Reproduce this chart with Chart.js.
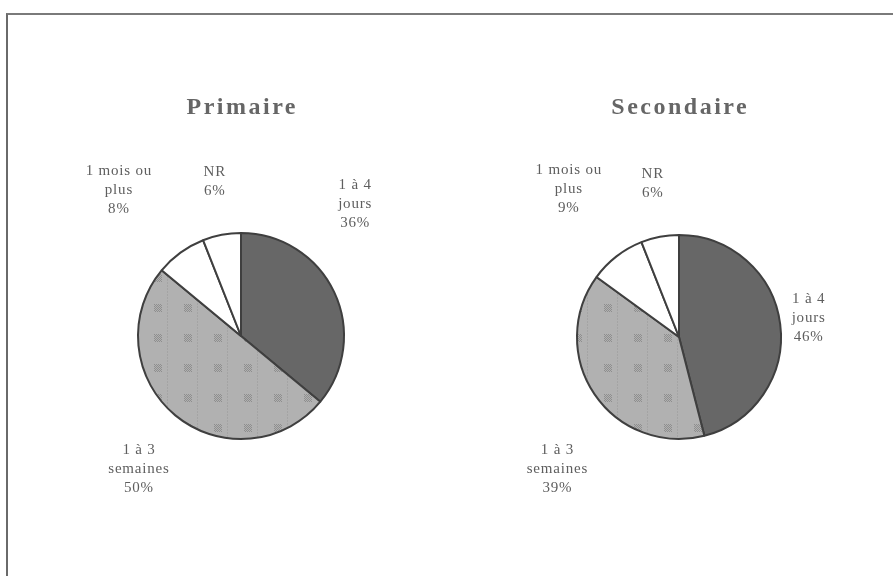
<!DOCTYPE html>
<html>
<head>
<meta charset="utf-8">
<script src="https://cdn.jsdelivr.net/npm/chart.js@4.4.0/dist/chart.umd.min.js"></script>
<style>
    html, body { margin: 0; padding: 0; background: #fff; }
    #page { position: relative; width: 893px; height: 576px; overflow: hidden; }
    #cadre {
        position: absolute; left: 6px; top: 13px; width: 900px; height: 600px;
        border-top: 2px solid #7a7a7a; border-left: 2px solid #6a6a6a;
    }
    canvas { position: absolute; left: 0; top: 0; }
</style>
</head>
<body>
<div id="page">
    <div id="cadre"></div>
    <canvas id="pie-primaire" width="893" height="576"></canvas>
    <canvas id="pie-secondaire" width="893" height="576"></canvas>
</div>
<script>
// categories (lignes de libellé)
const categories = [
    ['1 à 4', 'jours'],
    ['1 à 3', 'semaines'],
    ['1 mois ou', 'plus'],
    ['NR']
];
const titres = ['Primaire', 'Secondaire'];
const valeursPrimaire = [36, 50, 8, 6];
const valeursSecondaire = [46, 39, 9, 6];

// placement des étiquettes : [décalage d'angle en degrés, distance / rayon]
const placementPrimaire = [[-24, 1.69], [-2, 1.63], [-4, 1.85], [1, 1.52]];
const placementSecondaire = [[-1, 1.28], [-13, 1.76], [1, 1.81], [1, 1.53]];

function motifClair() {
    const c = document.createElement('canvas');
    c.width = 30; c.height = 30;
    const g = c.getContext('2d');
    g.fillStyle = '#b1b1b1';
    g.fillRect(0, 0, 30, 30);
    g.fillStyle = '#8e8e8e';
    for (let y = 0; y < 8; y++) {
        for (let x = 0; x < 8; x++) {
            if ((x + y) % 2 === 0) g.fillRect(4 + x, 4 + y, 1, 1);
        }
    }
    g.fillStyle = '#a4a4a4';
    for (let y = 0; y < 30; y += 3) g.fillRect(17, y, 1, 2);
    return g.createPattern(c, 'repeat');
}

const etiquettesPlugin = {
    id: 'etiquettes',
    afterDatasetsDraw(chart, args, opts) {
        const ctx = chart.ctx;
        const arcs = chart.getDatasetMeta(0).data;
        const valeurs = chart.data.datasets[0].data;
        ctx.save();
        ctx.fillStyle = '#5e5e5e';
        ctx.font = '15px "Liberation Serif", "DejaVu Serif", serif';
        ctx.letterSpacing = '0.8px';
        ctx.textAlign = 'center';
        ctx.textBaseline = 'middle';
        arcs.forEach((arc, i) => {
            const p = opts.placement[i];
            const mid = (arc.startAngle + arc.endAngle) / 2 + p[0] * Math.PI / 180;
            const d = arc.outerRadius * p[1];
            const cx = arc.x + Math.cos(mid) * d;
            const cy = arc.y + Math.sin(mid) * d;
            const lignes = categories[i].concat([valeurs[i] + '%']);
            const h = 19;
            const y0 = cy - (lignes.length - 1) * h / 2;
            lignes.forEach((l, k) => ctx.fillText(l, cx + 0.4, y0 + k * h));
        });
        // titre
        const ca = chart.chartArea;
        ctx.fillStyle = '#666';
        ctx.font = 'bold 24px "Liberation Serif", "DejaVu Serif", serif';
        ctx.letterSpacing = '2.5px';
        ctx.fillText(opts.titre, (ca.left + ca.right) / 2 + 1.25, 108);
        ctx.restore();
    }
};

function creerCamembert(id, valeurs, titre, placement, padding) {
    return new Chart(document.getElementById(id), {
        type: 'pie',
        data: {
            labels: categories.map(c => c.join(' ')),
            datasets: [{
                data: valeurs,
                backgroundColor: ['#676767', motifClair(), '#ffffff', '#ffffff'],
                borderColor: '#3f3f3f',
                borderWidth: 2
            }]
        },
        options: {
            responsive: false,
            animation: false,
            layout: { padding },
            plugins: {
                legend: { display: false },
                tooltip: { enabled: false },
                etiquettes: { titre, placement }
            }
        },
        plugins: [etiquettesPlugin]
    });
}

creerCamembert('pie-primaire', valeursPrimaire, titres[0], placementPrimaire,
    { left: 137, right: 548, top: 232, bottom: 136 });
creerCamembert('pie-secondaire', valeursSecondaire, titres[1], placementSecondaire,
    { left: 576, right: 111, top: 234, bottom: 136 });
</script>
</body>
</html>
